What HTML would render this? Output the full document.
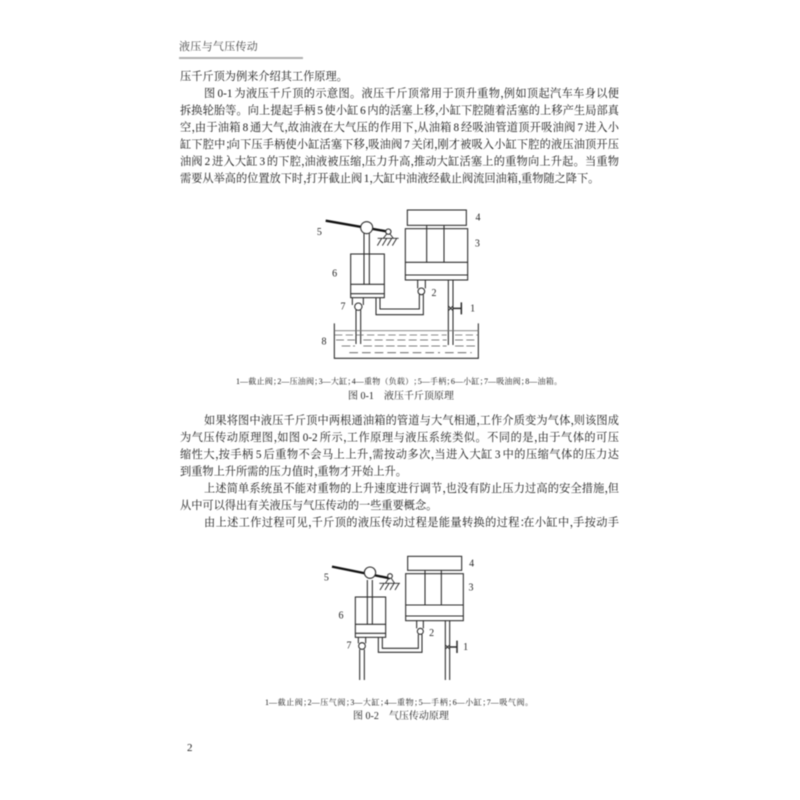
<!DOCTYPE html>
<html lang="zh"><head><meta charset="utf-8"><style>
html,body{margin:0;padding:0;background:#fff}
#p{position:relative;width:800px;height:800px;overflow:hidden;background:#fff;font-family:"Liberation Serif","Noto Serif CJK SC",serif;color:#1a1a1a;filter:blur(.4px)}
.l{position:absolute;left:180px;width:439px;height:17px;line-height:17px;font-size:11.2px;word-spacing:-1.2px;white-space:nowrap;text-align:justify;text-align-last:justify}
.n{left:180px;text-align:left;text-align-last:left}
.i{left:204px;width:415px}
.c{position:absolute;height:12px;line-height:12px;font-size:8px;white-space:nowrap;text-align:justify;text-align-last:justify;color:#222}
i{font-style:normal;display:inline-block;width:.28em;overflow:visible}
.c i{width:.55em}
svg{position:absolute;left:0;top:0}
svg text{font-family:"Liberation Serif",serif;font-size:30px;fill:#222;text-anchor:middle}
</style></head><body><div id="p">
<div class="l n" style="top:39px;left:179px;width:100px;color:#444;letter-spacing:.3px;font-size:11px">液压与气压传动</div>
<div style="position:absolute;left:179px;top:57px;width:124px;height:1.5px;background:#b0b0b0"></div>

<div class="l n" style="top:69px">压千斤顶为例来介绍其工作原理。</div>
<div class="l i" style="top:86px">图 0-1 为液压千斤顶的示意图。液压千斤顶常用于顶升重物<i>，</i>例如顶起汽车车身以便</div>
<div class="l" style="top:103px">拆换轮胎等。向上提起手柄 5 使小缸 6 内的活塞上移<i>，</i>小缸下腔随着活塞的上移产生局部真</div>
<div class="l" style="top:120px">空<i>，</i>由于油箱 8 通大气<i>，</i>故油液在大气压的作用下<i>，</i>从油箱 8 经吸油管道顶开吸油阀 7 进入小</div>
<div class="l" style="top:137px">缸下腔中<i>；</i>向下压手柄使小缸活塞下移<i>，</i>吸油阀 7 关闭<i>，</i>刚才被吸入小缸下腔的液压油顶开压</div>
<div class="l" style="top:154px">油阀 2 进入大缸 3 的下腔<i>，</i>油液被压缩<i>，</i>压力升高<i>，</i>推动大缸活塞上的重物向上升起。当重物</div>
<div class="l n" style="top:171px">需要从举高的位置放下时<i>，</i>打开截止阀 1<i>，</i>大缸中油液经截止阀流回油箱<i>，</i>重物随之降下。</div>

<div class="c" style="left:236px;top:376px;width:326px">1—截止阀<i>；</i>2—压油阀<i>；</i>3—大缸<i>；</i>4—重物（负载）<i>；</i>5—手柄<i>；</i>6—小缸<i>；</i>7—吸油阀<i>；</i>8—油箱。</div>
<div class="c" style="left:348px;top:391px;width:102px;font-size:10px">图 0-1　液压千斤顶原理</div>

<div class="l i" style="top:413px">如果将图中液压千斤顶中两根通油箱的管道与大气相通<i>，</i>工作介质变为气体<i>，</i>则该图成</div>
<div class="l" style="top:430px">为气压传动原理图<i>，</i>如图 0-2 所示<i>，</i>工作原理与液压系统类似。不同的是<i>，</i>由于气体的可压</div>
<div class="l" style="top:447px">缩性大<i>，</i>按手柄 5 后重物不会马上上升<i>，</i>需按动多次<i>，</i>当进入大缸 3 中的压缩气体的压力达</div>
<div class="l n" style="top:464px">到重物上升所需的压力值时<i>，</i>重物才开始上升。</div>
<div class="l i" style="top:481px">上述简单系统虽不能对重物的上升速度进行调节<i>，</i>也没有防止压力过高的安全措施<i>，</i>但</div>
<div class="l n" style="top:498px">从中可以得出有关液压与气压传动的一些重要概念。</div>
<div class="l i" style="top:515px">由上述工作过程可见<i>，</i>千斤顶的液压传动过程是能量转换的过程<i>：</i>在小缸中<i>，</i>手按动手</div>

<div class="c" style="left:265px;top:697px;width:268px">1—截止阀<i>；</i>2—压气阀<i>；</i>3—大缸<i>；</i>4—重物<i>；</i>5—手柄<i>；</i>6—小缸<i>；</i>7—吸气阀。</div>
<div class="c" style="left:353px;top:711px;width:95px;font-size:10px">图 0-2　气压传动原理</div>
<div class="l n" style="top:740px;left:187px;font-size:11px">2</div>

<svg width="800" height="800" viewBox="0 0 800 800">
<g transform="translate(300,200) scale(.33333)" fill="none" stroke="#2a2a2a" stroke-width="3.2">
<rect x="322" y="30" width="177" height="46"/>
<rect x="316" y="86" width="187" height="154"/>
<path d="M380 76V187M432 76V187M316 187H503M316 225H503"/>
<path d="M353 240V265M376 240V265M358 284V327H240V293M370 284V344H228V293"/>
<circle cx="364" cy="274" r="10"/>
<path d="M445 240V435M459 240V435"/>
<path d="M445 318L459 332M459 318L445 332" stroke-width="3"/>
<path d="M459 325H484M484 307V343" stroke-width="4.5"/>
<rect x="152" y="162" width="101" height="131"/>
<path d="M152 253H253M152 281H253M192 100V253M208 100V253"/>
<path d="M77 62L265 95" stroke-width="7" stroke="#111"/>
<circle cx="200" cy="83" r="18" fill="#fff"/>
<circle cx="265" cy="95" r="8" fill="#fff"/>
<path d="M260 102L250 115M270 102L280 115M233 115H296M245 115L232 137M260 115L247 137M275 115L262 137M290 115L277 137" stroke-width="2.8"/>
<path d="M157 293V315M190 293V315M168 330V432M182 330V432"/>
<circle cx="175" cy="320" r="11" fill="#fff"/>
<path d="M103 370V475H535V370"/>
<path d="M103 392H535" stroke-width="2.5" stroke="#777"/>
<path d="M105 405H440M465 405H535" stroke-width="2" stroke-dasharray="22 10" stroke="#666"/>
<path d="M108 420H165M190 420H440M465 420H530" stroke-width="2.5" stroke-dasharray="24 10" stroke="#555"/>
<path d="M125 438H165M190 438H440M465 438H530" stroke-width="2.5" stroke-dasharray="26 8" stroke="#555"/>
<path d="M148 458H420M435 458H515" stroke-width="2.5" stroke-dasharray="26 12" stroke="#555"/>
<g stroke="none">
<text x="534" y="61">4</text><text x="532" y="140">3</text><text x="58" y="105">5</text><text x="104" y="230">6</text>
<text x="402" y="288">2</text><text x="129" y="328">7</text><text x="518" y="334">1</text><text x="72" y="434">8</text>
</g>
</g>
<g transform="translate(310,550) scale(.33333)" fill="none" stroke="#2a2a2a" stroke-width="3.2">
<rect x="293" y="19" width="162" height="42"/>
<rect x="287" y="71" width="173" height="141"/>
<path d="M345 61V165M394 61V165M287 165H460M287 198H460"/>
<path d="M320 212V235M340 212V235M325 253V295H217V262M336 253V307H205V262"/>
<circle cx="331" cy="244" r="9"/>
<path d="M406 212V390M419 212V390"/>
<path d="M406 285L419 297M419 285L406 297" stroke-width="3"/>
<path d="M419 291H441M441 272V309" stroke-width="4.5"/>
<rect x="136" y="141" width="91" height="121"/>
<path d="M136 223H227M136 250H227M172 90V223M187 90V223"/>
<path d="M66 50L240 85" stroke-width="7" stroke="#111"/>
<circle cx="180" cy="68" r="17" fill="#fff"/>
<circle cx="240" cy="78" r="7" fill="#fff"/>
<path d="M236 85L226 100M244 85L254 100M208 100H270M222 100L210 120M237 100L225 120M252 100L240 120M267 100L255 120" stroke-width="2.8"/>
<path d="M145 262V280M167 262V280M149 298V390M163 298V390"/>
<circle cx="156" cy="288" r="10" fill="#fff"/>
<g stroke="none">
<text x="485" y="50">4</text><text x="483" y="122">3</text><text x="49" y="92">5</text><text x="93" y="205">6</text>
<text x="365" y="258">2</text><text x="117" y="296">7</text><text x="467" y="300">1</text>
</g>
</g>
</svg>
</div></body></html>
